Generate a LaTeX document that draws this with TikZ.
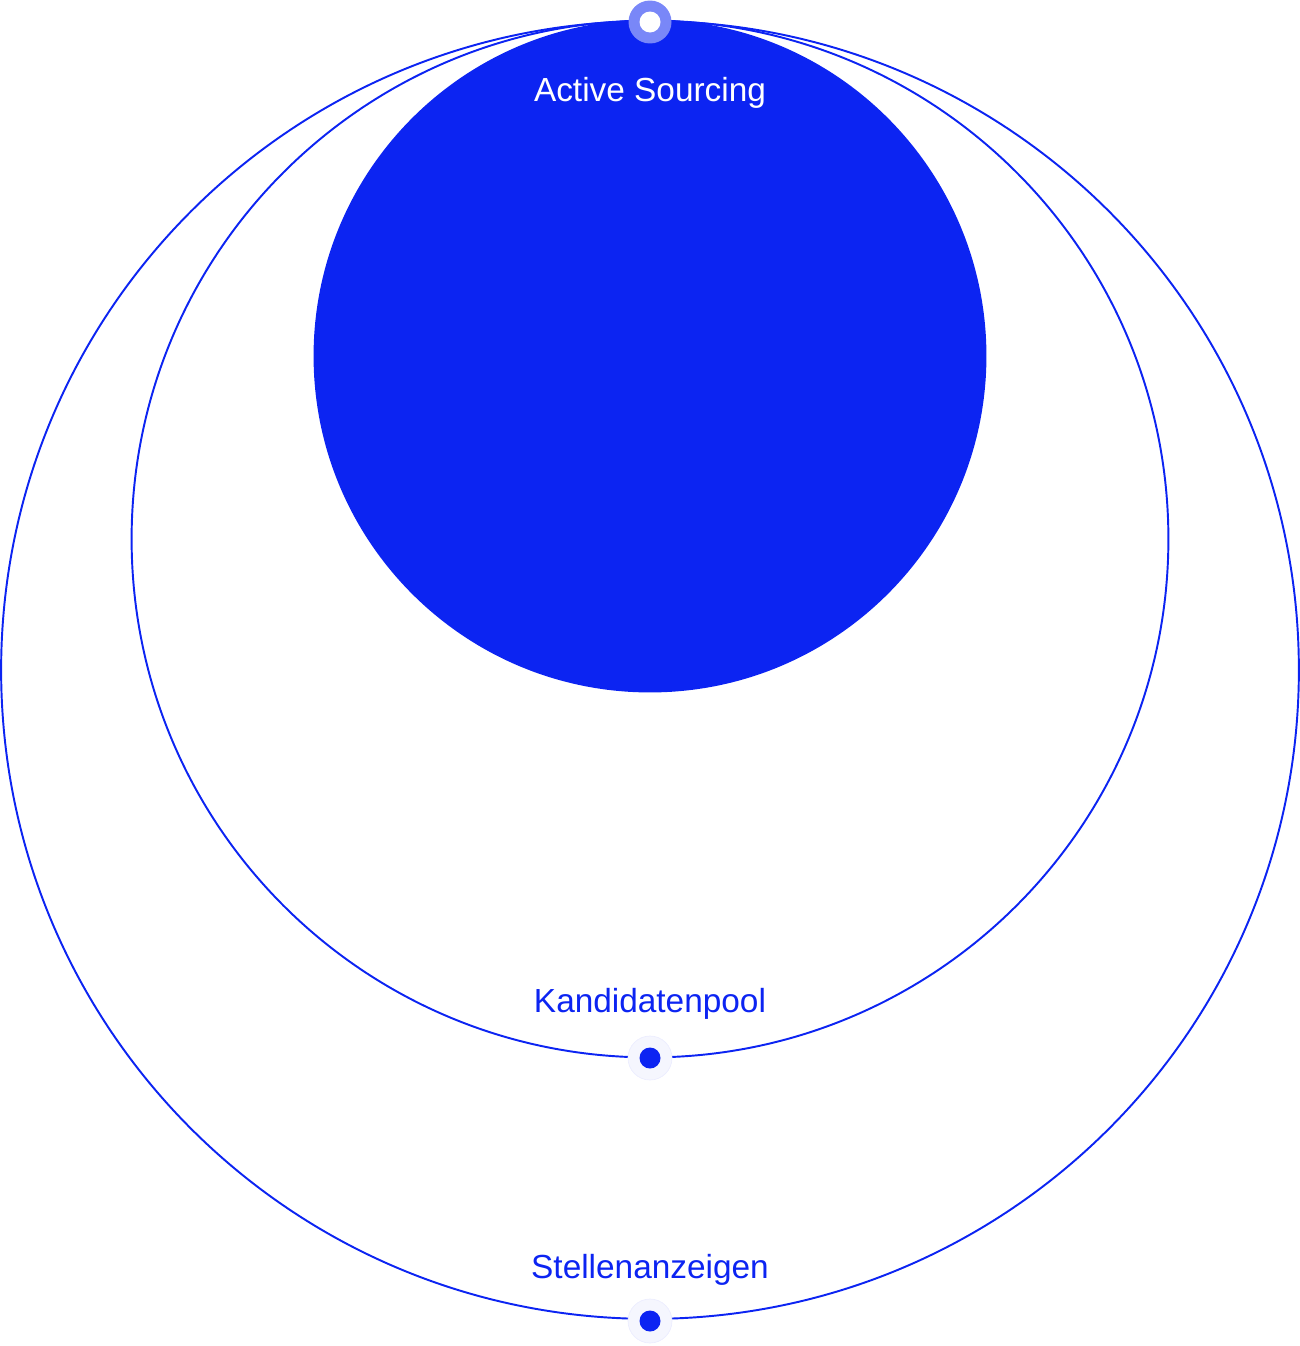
\documentclass[tikz,border=0pt]{standalone}
\usepackage{fontspec}
\setmainfont{Liberation Sans}
\usepackage{xcolor}
\usetikzlibrary{positioning}
\definecolor{brandblue}{RGB}{12,36,242}

\begin{document}
\begin{tikzpicture}[x=0.02cm, y=-0.02cm,
    ring/.style={circle, draw=brandblue, line width=1.1pt, inner sep=0pt},
    pool/.style={circle, fill=brandblue, inner sep=0pt},
    halo/.style={circle, fill=brandblue!4, draw=brandblue!8, inner sep=0pt, minimum size=0.88cm},
    dot/.style={circle, fill=brandblue, inner sep=0pt, minimum size=0.42cm},
    label/.style={font=\fontsize{19}{22}\selectfont, text=brandblue}]

\useasboundingbox (0,0) rectangle (1300,1346);

% Circles
\node[ring, minimum size=25.96cm] (outer) at (650,670) {};
\node[ring, minimum size=20.74cm] (middle) at (650,539) {};
\node[pool, minimum size=13.46cm] (inner) at (650,356) {};

% Markers
\node[halo, fill=brandblue!55!white, draw=none, minimum size=0.86cm] (tophalo) at (650,22) {};
\node[dot, fill=white] (topdot) at (tophalo) {};
\node[halo] (midhalo) at (650,1058) {};
\node[dot] (middot) at (midhalo) {};
\node[halo] (lowhalo) at (650,1321) {};
\node[dot] (lowdot) at (lowhalo) {};

% Labels
\node[label, text=white] (active) at (650,93) {Active Sourcing};
\node[label] (kandidat) at (650,1004) {Kandidatenpool};
\node[label] (stellen) at (650,1270) {Stellenanzeigen};

\end{tikzpicture}
\end{document}
